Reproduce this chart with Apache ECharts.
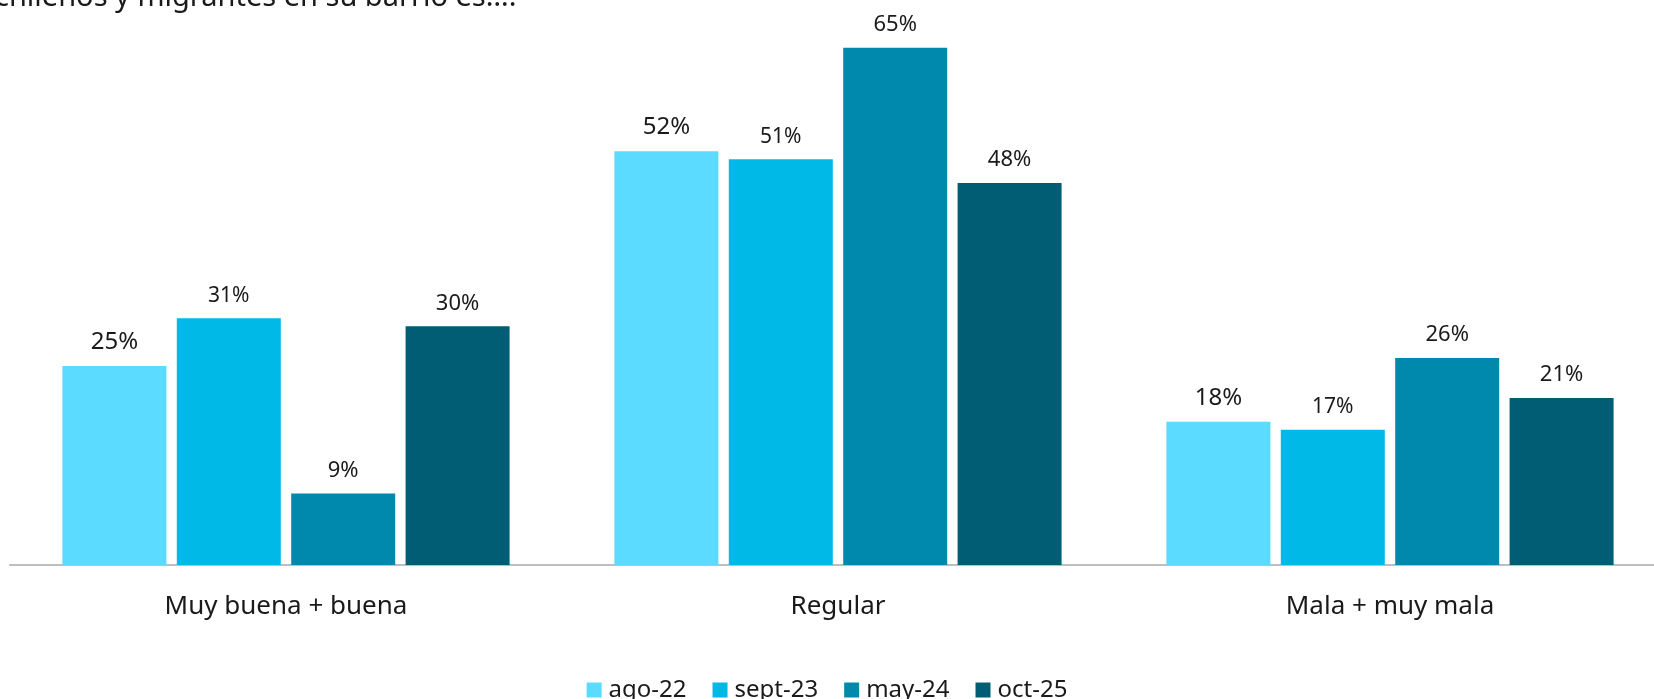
<!DOCTYPE html>
<html>
<head>
<meta charset="utf-8">
<script src="https://cdn.jsdelivr.net/npm/echarts@6/dist/echarts.min.js"></script>
<style>
html,body{margin:0;padding:0;background:#fff;}
#chart{width:1654px;height:699px;}
</style>
</head>
<body>
<div id="chart"></div>
<script>
const categories = ['Muy buena + buena', 'Regular', 'Mala + muy mala'];
const seriesNames = ['ago-22', 'sept-23', 'may-24', 'oct-25'];
const ago22 = [25, 52, 18];
const sept23 = [31, 51, 17];
const may24 = [9, 65, 26];
const oct25 = [30, 48, 21];
const titleText = 'chilenos y migrantes en su barrio es….';

const colors = ['#5ADBFF', '#00B9E7', '#0089AD', '#005D73'];
const labelSizes = [24, 21, 22, 22];
const FONT = '"Noto Sans", sans-serif';

const chart = echarts.init(document.getElementById('chart'), null, {renderer: 'canvas'});
const values = [ago22, sept23, may24, oct25];

const series = values.map((d, i) => ({
  name: seriesNames[i],
  type: 'bar',
  data: d,
  barWidth: 104,
  barGap: '10%',
  itemStyle: {color: colors[i]},
  label: {
    show: true,
    position: 'top',
    distance: 12,
    formatter: '{c}%',
    color: '#1a1a1a',
    fontFamily: FONT,
    fontSize: labelSizes[i]
  }
}));

chart.setOption({
  backgroundColor: '#ffffff',
  animation: false,
  color: colors,
  graphic: [{
    type: 'text',
    left: -5,
    top: -17,
    style: {
      text: titleText,
      font: '29px ' + FONT,
      fill: '#1a1a1a'
    }
  }],
  legend: {
    data: seriesNames,
    top: 673,
    left: 'center',
    icon: 'rect',
    itemWidth: 15,
    itemHeight: 15,
    itemGap: 26,
    textStyle: {fontFamily: FONT, fontSize: 24, color: '#1a1a1a', padding: [0, 0, 0, 2]}
  },
  grid: {left: 10, width: 1656, top: 8, bottom: 134, containLabel: false, outerBoundsMode: 'none'},
  xAxis: {
    type: 'category',
    data: categories,
    axisTick: {show: false},
    axisLine: {lineStyle: {color: '#BEBEBE', width: 2}},
    axisLabel: {fontFamily: FONT, fontSize: 26, color: '#1a1a1a', margin: 29}
  },
  yAxis: {
    type: 'value',
    min: 0,
    max: 70,
    show: false,
    splitLine: {show: false}
  },
  series: series
});
</script>
</body>
</html>
